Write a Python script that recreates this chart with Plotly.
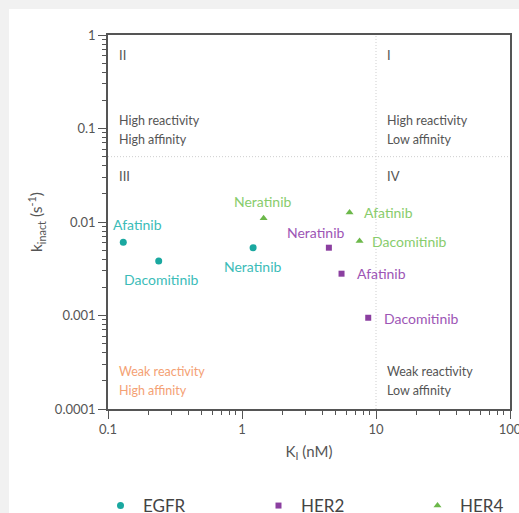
import numpy as np
import plotly.graph_objects as go

# ---- data ----
inhibitors = ["Afatinib", "Dacomitinib", "Neratinib"]
egfr_ki = [0.130, 0.239, 1.21]
egfr_kinact = [0.00607, 0.00383, 0.00531]
her2_ki = [5.53, 8.75, 4.45]
her2_kinact = [0.00280, 0.000946, 0.00531]
her4_ki = [6.35, 7.54, 1.45]
her4_kinact = [0.0126, 0.00626, 0.0110]

x_tickvals = [0.1, 1, 10, 100]
x_ticktext = ["0.1", "1", "10", "100"]
y_tickvals = [0.0001, 0.001, 0.01, 0.1, 1]
y_ticktext = ["0.0001", "0.001", "0.01", "0.1", "1"]

ki_split = 10
kinact_split = 0.05

FONT = "Lato"
AXIS_COLOR = "#555555"
TEXT_GRAY = "#555555"

series = [
    dict(name="EGFR", ki=egfr_ki, kin=egfr_kinact, symbol="circle", size=7,
         color="#1aa8a0", label="#3bbcb8", legend="legend", legend_x=98,
         offsets={"Afatinib": (14, 18, "center"), "Dacomitinib": (3, -19, "center"),
                  "Neratinib": (0, -19, "center")}),
    dict(name="HER2", ki=her2_ki, kin=her2_kinact, symbol="square", size=6,
         color="#8b3fa0", label="#9d55b5", legend="legend2", legend_x=256,
         offsets={"Afatinib": (13, 0, "left"), "Dacomitinib": (14, -1, "left"),
                  "Neratinib": (-13, 15, "center")}),
    dict(name="HER4", ki=her4_ki, kin=her4_kinact, symbol="triangle-up", size=7,
         color="#6cb84a", label="#88cc6c", legend="legend3", legend_x=415,
         offsets={"Afatinib": (12, 0, "left"), "Dacomitinib": (10, 0, "left"),
                  "Neratinib": (-1, 17, "center")}),
]

# plot area geometry in pixels
W, H = 519, 513
L, R, T, B = 108, 9, 35, 104
pw, ph = W - L - R, H - T - B


def px(xp):
    return (xp - L) / pw


def py(yp):
    return (H - B - yp) / ph


fig = go.Figure()

# quadrant divider lines (dotted)
fig.add_trace(go.Scatter(x=[ki_split, ki_split], y=[y_tickvals[0], y_tickvals[-1]],
                         mode="lines", line=dict(color="#cfcfcf", width=1, dash="1px,2px"),
                         showlegend=False, hoverinfo="skip"))
fig.add_trace(go.Scatter(x=[x_tickvals[0], x_tickvals[-1]], y=[kinact_split, kinact_split],
                         mode="lines", line=dict(color="#cfcfcf", width=1, dash="1px,2px"),
                         showlegend=False, hoverinfo="skip"))

annotations = []
legends = {}
for s in series:
    fig.add_trace(go.Scatter(x=s["ki"], y=s["kin"], mode="markers", name=s["name"],
                             legend=s["legend"],
                             marker=dict(symbol=s["symbol"], size=s["size"], color=s["color"],
                                         line=dict(width=0)),
                             text=inhibitors))
    legends[s["legend"]] = dict(orientation="h", x=px(s["legend_x"]), y=py(506),
                                xanchor="left", yanchor="middle",
                                font=dict(family=FONT, size=17, color="#444444"),
                                bgcolor="rgba(0,0,0,0)", itemwidth=35)
    for name, xv, yv in zip(inhibitors, s["ki"], s["kin"]):
        dx, dy, anchor = s["offsets"][name]
        annotations.append(dict(x=np.log10(xv), y=np.log10(yv), xref="x", yref="y",
                                text=name, showarrow=False, xanchor=anchor, yanchor="middle",
                                xshift=dx, yshift=dy,
                                font=dict(family=FONT, size=14, color=s["label"])))

quad_texts = [
    ("II", 117, 55, TEXT_GRAY, 13),
    ("I", 385, 55, TEXT_GRAY, 13),
    ("High reactivity", 117, 120, TEXT_GRAY, 12.5),
    ("High affinity", 117, 139, TEXT_GRAY, 12.5),
    ("High reactivity", 385, 120, TEXT_GRAY, 12.5),
    ("Low affinity", 385, 139, TEXT_GRAY, 12.5),
    ("III", 117, 176, TEXT_GRAY, 13),
    ("IV", 385, 176, TEXT_GRAY, 13),
    ("Weak reactivity", 117, 371, "#f4a174", 12.5),
    ("High affinity", 117, 390, "#f4a174", 12.5),
    ("Weak reactivity", 385, 371, TEXT_GRAY, 12.5),
    ("Low affinity", 385, 390, TEXT_GRAY, 12.5),
]
for txt, xp, yp, col, fs in quad_texts:
    annotations.append(dict(x=px(xp), y=py(yp), xref="paper", yref="paper", text=txt,
                            showarrow=False, xanchor="left", yanchor="middle",
                            font=dict(family=FONT, size=fs, color=col)))

axis_common = dict(
    type="log", showgrid=False, zeroline=False, automargin=False,
    showline=True, linecolor=AXIS_COLOR, linewidth=1.5, mirror=True,
    ticks="outside", ticklen=8, tickwidth=1.2, tickcolor=AXIS_COLOR,
    tickfont=dict(family=FONT, size=13, color=TEXT_GRAY),
    ticklabeloverflow="allow",
    minor=dict(ticks="outside", ticklen=4, tickwidth=1, tickcolor=AXIS_COLOR,
               dtick="D1", showgrid=False),
)

fig.update_layout(
    width=W, height=H,
    margin=dict(l=L, r=R, t=T, b=B, pad=0, autoexpand=False),
    paper_bgcolor="#f1f1f1",
    plot_bgcolor="rgba(0,0,0,0)",
    font=dict(family=FONT, color=TEXT_GRAY),
    xaxis=dict(axis_common, range=[-1, 2], tickvals=x_tickvals, ticktext=x_ticktext,
               title=dict(text="K<sub>I</sub> (nM)", font=dict(family=FONT, size=15, color=TEXT_GRAY),
                          standoff=10)),
    yaxis=dict(axis_common, range=[-4, 0], tickvals=y_tickvals, ticktext=y_ticktext,
               title=dict(text="k<sub>inact</sub> (s<sup>-1</sup>)",
                          font=dict(family=FONT, size=15.5, color=TEXT_GRAY), standoff=8)),
    annotations=annotations,
    shapes=[dict(type="rect", xref="paper", yref="paper", layer="below",
                 x0=px(9), x1=px(W + 20), y0=py(H + 20), y1=py(9),
                 fillcolor="white", line=dict(width=0))],
    showlegend=True,
    **legends,
)

fig.write_html(
    "out.html",
    config={"displayModeBar": False},
    post_script="document.body.style.margin='0';document.body.style.overflow='hidden';",
)
